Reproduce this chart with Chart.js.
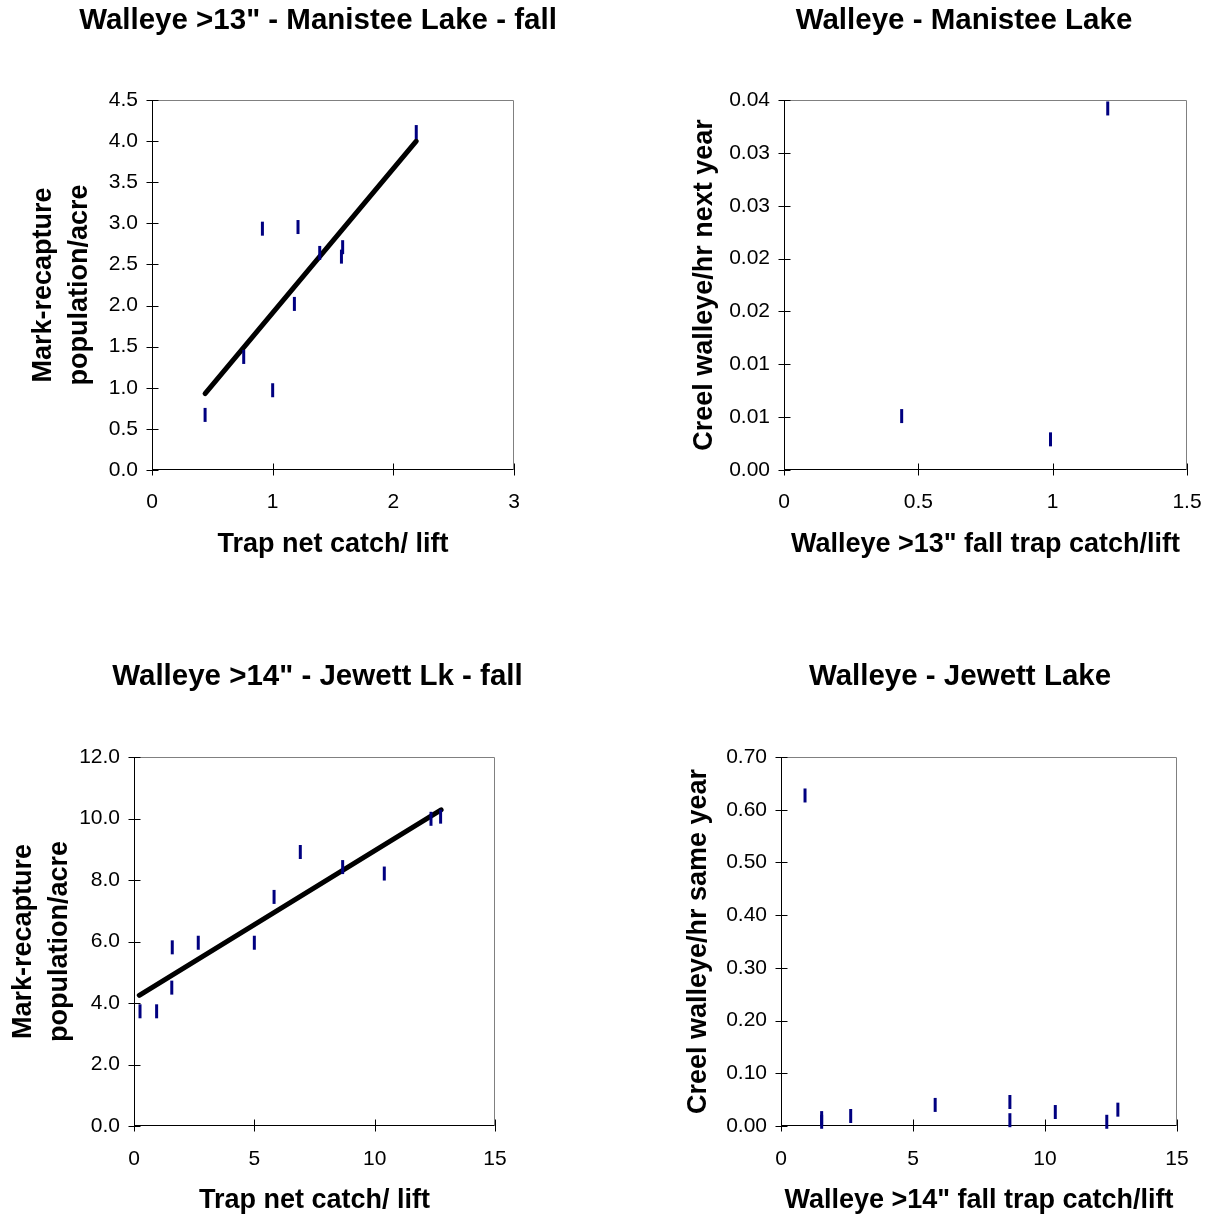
<!DOCTYPE html>
<html>
<head>
<meta charset="utf-8">
<script src="https://cdn.jsdelivr.net/npm/chart.js@4.4.1/dist/chart.umd.min.js"></script>
<style>
  html, body { margin: 0; padding: 0; background: #fff; overflow: hidden; width: 1213px; height: 1215px; }
  canvas { position: absolute; }
</style>
</head>
<body>
<canvas id="c1"></canvas>
<canvas id="c2"></canvas>
<canvas id="c3"></canvas>
<canvas id="c4"></canvas>
<script>
// Manistee Lake, walleye >13", fall: trap net catch vs mark-recapture estimate
const manisteeTrapX = [0.44, 0.76, 0.915, 1.0, 1.18, 1.21, 1.39, 1.57, 1.58, 2.19];
const manisteePopY  = [0.67, 1.375, 2.935, 0.97, 2.02, 2.955, 2.64, 2.595, 2.71, 4.11];
const manisteeFitX  = [0.44, 2.19];
const manisteeFitY  = [0.93, 4.0];
const manisteePopTicks  = ['0.0', '0.5', '1.0', '1.5', '2.0', '2.5', '3.0', '3.5', '4.0', '4.5'];
const manisteeTrapTicks = ['0', '1', '2', '3'];

// Manistee Lake: trap catch vs creel catch rate next year
const manisteeCreelX = [0.438, 0.992, 1.205];
const manisteeCreelY = [0.0051, 0.0029, 0.0342];
const creelNextTicks = ['0.00', '0.01', '0.01', '0.02', '0.02', '0.03', '0.03', '0.04'];
const manisteeCreelXTicks = ['0', '0.5', '1', '1.5'];

// Jewett Lake, walleye >14", fall
const jewettTrapX = [0.25, 0.94, 1.57, 1.59, 2.67, 5.0, 5.82, 6.91, 8.67, 10.40, 12.34, 12.74];
const jewettPopY  = [3.73, 3.73, 4.50, 5.81, 5.96, 5.96, 7.45, 8.91, 8.42, 8.21, 9.99, 10.06];
const jewettFitX  = [0.22, 12.76];
const jewettFitY  = [4.25, 10.28];
const jewettPopTicks  = ['0.0', '2.0', '4.0', '6.0', '8.0', '10.0', '12.0'];
const jewettTrapTicks = ['0', '5', '10', '15'];

// Jewett Lake: trap catch vs creel catch rate same year
const jewettCreelX = [0.91, 1.54, 1.54, 2.64, 5.84, 8.67, 8.67, 10.39, 12.34, 12.76];
const jewettCreelY = [0.627, 0.015, 0.008, 0.019, 0.040, 0.0455, 0.011, 0.0265, 0.008, 0.031];
const creelSameTicks = ['0.00', '0.10', '0.20', '0.30', '0.40', '0.50', '0.60', '0.70'];

const FONT = "'Liberation Sans', Arial, sans-serif";

function pairs(xs, ys) {
    return xs.map((x, i) => ({ x: x, y: ys[i] }));
}

// excel style plot frame: black left/bottom axes, grey top/right, ticks crossing the axis
const excelFrame = {
    id: 'excelFrame',
    beforeDatasetsDraw(chart) {
        let ctx = chart.ctx, a = chart.chartArea;
        let x = chart.scales.x, y = chart.scales.y;
        let L = Math.round(a.left) + 0.5, R = Math.round(a.right) - 0.5;
        let T = Math.round(a.top) + 0.5, B = Math.round(a.bottom) - 0.5;
        ctx.save();
        ctx.lineWidth = 1;
        ctx.strokeStyle = '#808080';
        ctx.beginPath();
        ctx.moveTo(L, T); ctx.lineTo(R, T); ctx.lineTo(R, B);
        ctx.stroke();
        ctx.strokeStyle = '#000';
        ctx.beginPath();
        ctx.moveTo(L, T); ctx.lineTo(L, B); ctx.lineTo(R, B);
        x.ticks.forEach(t => {
            let px = Math.round(x.getPixelForValue(t.value)) + 0.5;
            ctx.moveTo(px, B - 6); ctx.lineTo(px, B + 6);
        });
        y.ticks.forEach(t => {
            let py = Math.round(y.getPixelForValue(t.value)) + 0.5;
            ctx.moveTo(L - 6, py); ctx.lineTo(L + 6, py);
        });
        ctx.stroke();
        ctx.restore();
    }
};

function buildChart(id, c) {
    let canvas = document.getElementById(id);
    canvas.width = c.box[2];
    canvas.height = c.box[3];
    canvas.style.left = c.box[0] + 'px';
    canvas.style.top = c.box[1] + 'px';

    let datasets = [{
        data: pairs(c.xs, c.ys),
        pointStyle: 'line',
        pointRotation: 90,
        pointRadius: 7,
        pointBorderWidth: 3,
        pointBorderColor: '#000080',
        pointBackgroundColor: '#000080',
        clip: false
    }];
    if (c.fitX) {
        datasets.push({
            data: pairs(c.fitX, c.fitY),
            showLine: true,
            borderColor: '#000',
            borderWidth: 5,
            borderCapStyle: 'round',
            pointRadius: 0,
            clip: false
        });
    }

    return new Chart(canvas, {
        type: 'scatter',
        data: { datasets: datasets },
        plugins: [excelFrame],
        options: {
            responsive: false,
            animation: false,
            events: [],
            layout: { padding: 0 },
            plugins: {
                legend: { display: false },
                tooltip: { enabled: false },
                title: {
                    display: true,
                    text: c.title,
                    color: '#000',
                    font: { family: FONT, size: 29.5, weight: 'bold', lineHeight: 1.2 },
                    padding: { top: c.titlePad[0], bottom: c.titlePad[1] }
                }
            },
            scales: {
                x: {
                    type: 'linear',
                    min: c.xMin, max: c.xMax,
                    grid: { display: false, drawTicks: false },
                    border: { display: false },
                    ticks: {
                        stepSize: c.xStep,
                        color: '#000',
                        padding: c.xTickPad,
                        maxRotation: 0,
                        font: { family: FONT, size: 21 },
                        callback: (v) => c.xLabels[Math.round((v - c.xMin) / c.xStep)]
                    },
                    title: {
                        display: true,
                        text: c.xTitle,
                        color: '#000',
                        font: { family: FONT, size: 27, weight: 'bold', lineHeight: 1.2 },
                        padding: { top: 0, bottom: c.xTitlePad }
                    },
                    afterFit: (s) => { s.height = c.xh; }
                },
                y: {
                    type: 'linear',
                    min: c.yMin, max: c.yMax,
                    grid: { display: false, drawTicks: false },
                    border: { display: false },
                    ticks: {
                        stepSize: c.yStep,
                        color: '#000',
                        padding: 14,
                        font: { family: FONT, size: 21 },
                        callback: (v) => c.yLabels[Math.round((v - c.yMin) / c.yStep)]
                    },
                    title: {
                        display: true,
                        text: c.yTitle,
                        color: '#000',
                        font: { family: FONT, size: 27, weight: 'bold', lineHeight: 1.333 },
                        padding: { top: c.yTitlePad, bottom: 0 }
                    },
                    afterFit: (s) => { s.width = c.yw; }
                },
                // empty axis only used to hold the space right of the plot
                yr: {
                    type: 'linear',
                    position: 'right',
                    ticks: { display: false },
                    grid: { display: false, drawTicks: false },
                    border: { display: false },
                    afterFit: (s) => { s.width = c.rightGap; }
                }
            }
        }
    });
}

buildChart('c1', {
    box: [0, 0, 636, 620],
    title: 'Walleye >13" - Manistee Lake - fall',
    titlePad: [3.3, 61.3],
    xs: manisteeTrapX, ys: manisteePopY, fitX: manisteeFitX, fitY: manisteeFitY,
    xMin: 0, xMax: 3, xStep: 1, xLabels: manisteeTrapTicks,
    yMin: 0, yMax: 4.5, yStep: 0.5, yLabels: manisteePopTicks,
    xTitle: 'Trap net catch/ lift', yTitle: ['Mark-recapture', 'population/acre'],
    yw: 152, yTitlePad: 26, xh: 150, xTickPad: 19.5, xTitlePad: 58.8, rightGap: 122
});

buildChart('c2', {
    box: [640, 0, 648, 620],
    title: 'Walleye - Manistee Lake',
    titlePad: [3.3, 61.3],
    xs: manisteeCreelX, ys: manisteeCreelY,
    xMin: 0, xMax: 1.5, xStep: 0.5, xLabels: manisteeCreelXTicks,
    yMin: 0, yMax: 0.035, yStep: 0.005, yLabels: creelNextTicks,
    xTitle: 'Walleye >13" fall trap catch/lift', yTitle: 'Creel walleye/hr next year',
    yw: 144, yTitlePad: 47, xh: 150, xTickPad: 19.5, xTitlePad: 58.8, rightGap: 101
});

buildChart('c3', {
    box: [0, 640, 635, 575],
    title: 'Walleye >14" - Jewett Lk - fall',
    titlePad: [19.3, 62.3],
    xs: jewettTrapX, ys: jewettPopY, fitX: jewettFitX, fitY: jewettFitY,
    xMin: 0, xMax: 15, xStep: 5, xLabels: jewettTrapTicks,
    yMin: 0, yMax: 12, yStep: 2, yLabels: jewettPopTicks,
    xTitle: 'Trap net catch/ lift', yTitle: ['Mark-recapture', 'population/acre'],
    yw: 134, yTitlePad: 6, xh: 89, xTickPad: 21, xTitlePad: -2, rightGap: 140
});

buildChart('c4', {
    box: [640, 640, 640, 575],
    title: 'Walleye - Jewett Lake',
    titlePad: [19.3, 62.3],
    xs: jewettCreelX, ys: jewettCreelY,
    xMin: 0, xMax: 15, xStep: 5, xLabels: jewettTrapTicks,
    yMin: 0, yMax: 0.7, yStep: 0.1, yLabels: creelSameTicks,
    xTitle: 'Walleye >14" fall trap catch/lift', yTitle: 'Creel walleye/hr same year',
    yw: 141, yTitlePad: 41, xh: 89, xTickPad: 21, xTitlePad: -2, rightGap: 103
});
</script>
</body>
</html>
